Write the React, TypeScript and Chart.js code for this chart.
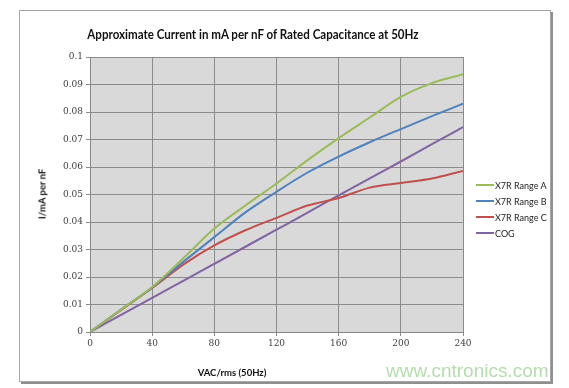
import React, { useEffect, useRef } from "react";
import { Chart, registerables } from "chart.js";

Chart.register(...registerables);

const voltages = [0, 20, 40, 60, 80, 100, 120, 140, 160, 180, 200, 220, 240];
const rangeA = [0, 0.0082, 0.0164, 0.0268, 0.0376, 0.046, 0.054, 0.0625, 0.0705, 0.078, 0.0855, 0.0905, 0.0937];
const rangeB = [0, 0.0082, 0.0162, 0.0255, 0.0345, 0.0435, 0.051, 0.058, 0.0638, 0.069, 0.0738, 0.0785, 0.083];
const rangeC = [0, 0.008, 0.016, 0.0245, 0.0315, 0.037, 0.0415, 0.046, 0.0487, 0.0525, 0.0542, 0.0558, 0.0586];
const cog = [0, 0.0062, 0.0124, 0.0186, 0.0248, 0.031, 0.0372, 0.0434, 0.0497, 0.0559, 0.062, 0.0683, 0.0745];

const seriesNames = ["X7R Range A", "X7R Range B", "X7R Range C", "COG"];
const seriesColors = ["#9bbb59", "#4f81bd", "#c0504d", "#8064a2"];
const seriesValues = [rangeA, rangeB, rangeC, cog];

const yTickLabels = ["0", "0.01", "0.02", "0.03", "0.04", "0.05", "0.06", "0.07", "0.08", "0.09", "0.1"];
const xTickLabels = ["0", "40", "80", "120", "160", "200", "240"];

const title = "Approximate Current in mA per nF of Rated Capacitance at 50Hz";
const xTitle = "VAC/rms (50Hz)";
const yTitle = "I/mA per nF";
const watermark = "www.cntronics.com";

const plotBg = {
  id: "plotBg",
  beforeDraw(chart: any) {
    const { ctx, chartArea } = chart;
    ctx.save();
    ctx.fillStyle = "#d9d9d9";
    ctx.fillRect(chartArea.left, chartArea.top, chartArea.right - chartArea.left, chartArea.bottom - chartArea.top);
    ctx.restore();
  },
};

export default function App() {
  const ref = useRef<HTMLCanvasElement | null>(null);

  useEffect(() => {
    if (!ref.current) return;
    const chart = new Chart(ref.current, {
      type: "line",
      data: {
        datasets: seriesNames.map((name, i) => ({
          label: name,
          data: voltages.map((v, j) => ({ x: v, y: seriesValues[i][j] })),
          borderColor: seriesColors[i],
          backgroundColor: seriesColors[i],
          borderWidth: 2,
          pointRadius: 0,
          cubicInterpolationMode: "monotone" as const,
          fill: false,
        })),
      },
      options: {
        animation: false,
        responsive: false,
        maintainAspectRatio: false,
        layout: { padding: { left: 0, right: 106, top: 57, bottom: 0 } },
        plugins: { legend: { display: false }, title: { display: false }, tooltip: { enabled: false } },
        scales: {
          x: {
            type: "linear",
            min: 0,
            max: 240,
            afterFit: (s: any) => { s.height = 56; },
            ticks: {
              stepSize: 40,
              padding: 2,
              color: "#404040",
              font: { family: "'DejaVu Serif'", size: 9 },
              callback: (_v: any, i: number) => xTickLabels[i],
              maxRotation: 0,
            },
            grid: { color: "#8c8c8c", tickLength: 4, lineWidth: 1 },
            border: { color: "#868686" },
          },
          y: {
            min: 0,
            max: 0.1,
            afterFit: (s: any) => { s.width = 90; },
            ticks: {
              stepSize: 0.01,
              padding: 3,
              color: "#404040",
              font: { family: "'DejaVu Serif'", size: 9 },
              callback: (_v: any, i: number) => yTickLabels[i],
            },
            grid: { color: "#8c8c8c", tickLength: 4, lineWidth: 1 },
            border: { color: "#868686" },
          },
        },
      },
      plugins: [plotBg],
    });
    return () => chart.destroy();
  }, []);

  return (
    <div style={{ position: "fixed", left: 0, top: 0, width: 569, height: 388, background: "#fff", overflow: "hidden", fontFamily: "Lato, 'Open Sans', sans-serif" }}>
      <div style={{ position: "absolute", left: 19, top: 10, width: 530, height: 370, border: "1px solid #a6a6a6", boxShadow: "2px 2px 0 #8f8f8f" }} />
      <canvas ref={ref} width={569} height={388} style={{ position: "absolute", left: 0, top: 0 }} />
      <div style={{ position: "absolute", left: 0, width: 506, top: 27, textAlign: "center", fontWeight: 700, fontSize: 12.5, color: "#111", transform: "scaleX(0.925)", transformOrigin: "253px 0" }}>{title}</div>
      <div style={{ position: "absolute", left: 132, width: 200, top: 367, textAlign: "center", fontWeight: 700, fontSize: 9.5, color: "#111" }}>{xTitle}</div>
      <div style={{ position: "absolute", left: 42, top: 194, transform: "translate(-50%, -50%) rotate(-90deg)", fontWeight: 700, fontSize: 9.5, color: "#111", whiteSpace: "nowrap" }}>{yTitle}</div>
      <div style={{ position: "absolute", left: 476, top: 177 }}>
        {seriesNames.map((n, i) => (
          <div key={n} style={{ display: "flex", alignItems: "center", height: 16 }}>
            <div style={{ width: 18, height: 2, background: seriesColors[i] }} />
            <div style={{ fontSize: 9, color: "#222", marginLeft: 1 }}>{n}</div>
          </div>
        ))}
      </div>
      <div style={{ position: "absolute", left: 386, top: 360, lineHeight: "22px", fontFamily: "'Liberation Sans', Arial, sans-serif", fontSize: 19, color: "rgba(150,205,140,0.7)", whiteSpace: "nowrap" }}>{watermark}</div>
    </div>
  );
}
